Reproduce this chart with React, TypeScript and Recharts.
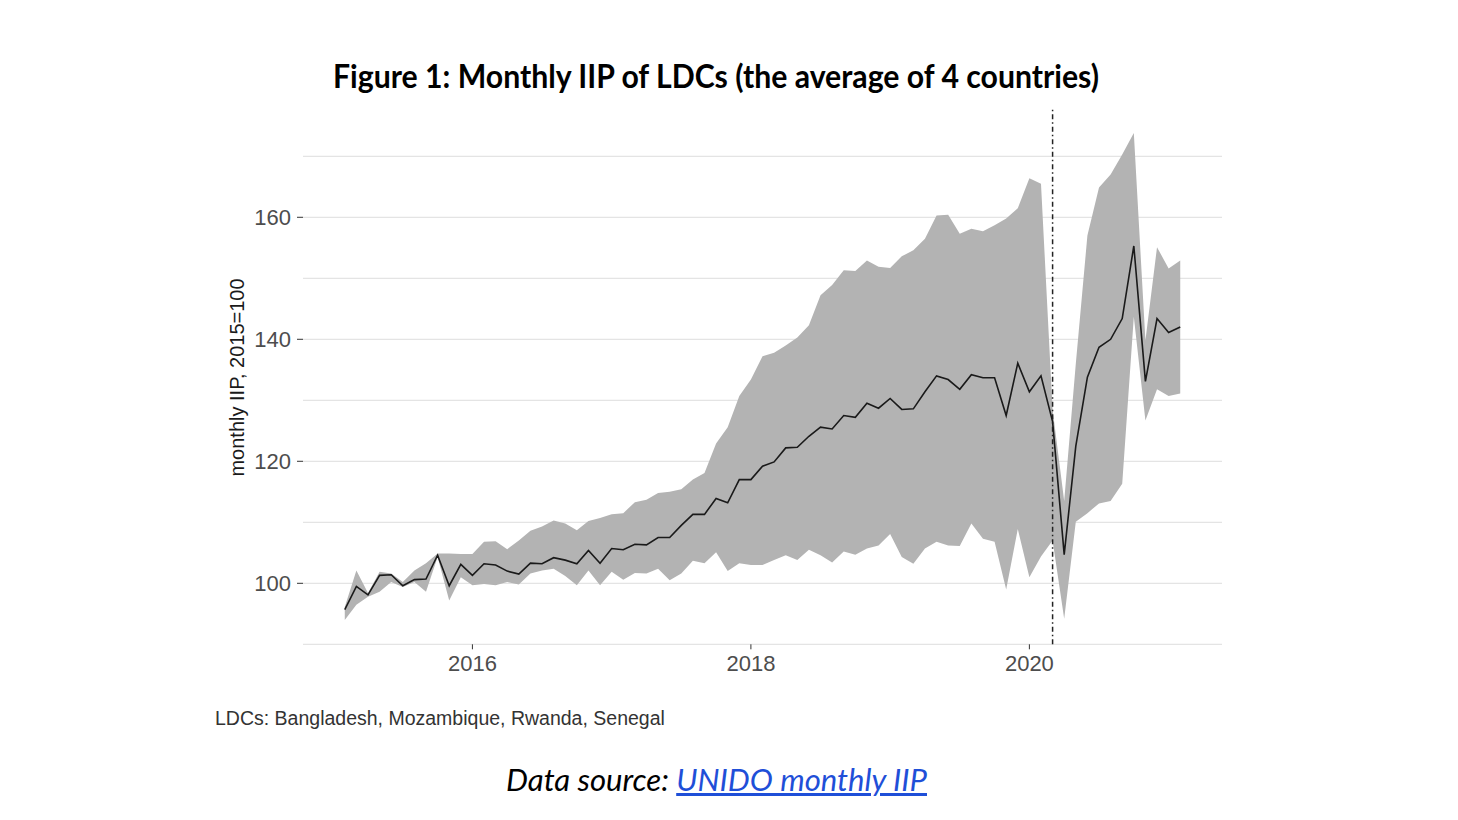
import { ComposedChart, Area, Line, XAxis, YAxis, CartesianGrid, ReferenceLine } from "recharts"

// monthly observations Feb 2015 .. Feb 2021, as decimal years
const months = Array.from({ length: 73 }, (_, i) => 2015 + (i + 1) / 12)

const meanIIP = [
  95.7, 99.5, 98.1, 101.3, 101.4, 99.6, 100.6, 100.7, 104.6, 99.6, 103.1,
  101.3, 103.2, 103.0, 102.0, 101.5, 103.3, 103.2, 104.2, 103.8, 103.2, 105.4, 103.3,
  105.7, 105.5, 106.4, 106.3, 107.5, 107.5, 109.5, 111.3, 111.3, 113.9, 113.2, 117.0,
  117.0, 119.2, 119.9, 122.2, 122.3, 124.1, 125.6, 125.3, 127.5, 127.2, 129.5, 128.7,
  130.3, 128.5, 128.6, 131.4, 134.0, 133.4, 131.8, 134.2, 133.7, 133.7, 127.5, 136.1,
  131.4, 134.0, 126.5, 104.7, 122.5, 133.8, 138.7, 140.0, 143.4, 155.3, 133.1, 143.4,
  141.1, 142.0,
]

const upperIIP = [
  96.1, 102.1, 98.4, 101.9, 101.6, 100.2, 102.1, 103.3, 104.9, 104.9, 104.8,
  104.8, 106.8, 106.9, 105.6, 107.0, 108.6, 109.3, 110.3, 109.8, 108.7, 110.2, 110.7,
  111.3, 111.5, 113.3, 113.7, 114.8, 115.0, 115.4, 117.0, 118.1, 122.9, 125.6, 130.7,
  133.4, 137.2, 137.8, 139.0, 140.3, 142.3, 147.2, 148.9, 151.3, 151.2, 152.9, 151.9,
  151.7, 153.6, 154.6, 156.5, 160.3, 160.4, 157.3, 158.1, 157.7, 158.7, 159.8, 161.5,
  166.4, 165.5, 128.5, 113.5, 136.0, 157.0, 164.9, 167.0, 170.3, 173.8, 139.8, 155.1,
  151.6, 152.9,
]

const lowerIIP = [
  94.0, 96.5, 97.8, 98.6, 100.2, 99.4, 100.2, 98.6, 104.3, 97.2, 101.0,
  99.7, 99.9, 99.7, 100.2, 99.8, 101.6, 102.1, 102.4, 101.2, 99.7, 102.1, 99.7,
  101.9, 100.6, 101.7, 101.6, 102.4, 100.5, 101.6, 103.7, 103.3, 105.1, 102.0, 103.3,
  103.0, 103.0, 103.8, 104.6, 103.8, 105.5, 104.6, 103.4, 105.2, 104.7, 105.7, 106.2,
  108.1, 104.3, 103.2, 105.7, 106.8, 106.2, 106.1, 109.8, 107.3, 106.8, 99.0, 108.9,
  101.0, 104.4, 107.0, 94.2, 110.1, 111.5, 113.1, 113.5, 116.3, 143.7, 126.7, 131.8,
  130.7, 131.1,
]

const xTicks = [2016, 2018, 2020]
const yTicks = [100, 120, 140, 160]
const gridValues = [90, 100, 110, 120, 130, 140, 150, 160, 170]
const covidStart = 2020 + 2 / 12 // March 2020

const data = months.map((t, i) => ({
  t,
  mean: meanIIP[i],
  band: [lowerIIP[i], upperIIP[i]],
}))

const axisFont = "'Liberation Sans', Arial, sans-serif"

export default function App() {
  return (
    <div style={{ position: "absolute", left: 0, top: 0, width: 1458, height: 820, background: "#fff" }}>
      <ComposedChart
        width={1458}
        height={820}
        data={data}
        margin={{ top: 108.7, right: 236, bottom: 135.7, left: 243 }}
      >
        <CartesianGrid
          horizontal
          vertical={false}
          horizontalValues={gridValues}
          stroke="#e4e4e4"
          strokeWidth={1.2}
        />
        <XAxis
          type="number"
          dataKey="t"
          domain={[2014.7833, 2021.3833]}
          ticks={xTicks}
          height={40}
          axisLine={false}
          tickSize={5}
          tickMargin={6}
          tickLine={{ stroke: "#333" }}
          tick={{ fill: "#4d4d4d", fontSize: 22, fontFamily: axisFont }}
        />
        <YAxis
          type="number"
          domain={[90, 177.8]}
          ticks={yTicks}
          width={60}
          axisLine={false}
          tickSize={6}
          tickMargin={6}
          tickLine={{ stroke: "#333" }}
          tick={{ fill: "#4d4d4d", fontSize: 22, fontFamily: axisFont }}
        />
        <Area
          type="linear"
          dataKey="band"
          fill="#b3b3b3"
          fillOpacity={1}
          stroke="none"
          isAnimationActive={false}
        />
        <Line
          type="linear"
          dataKey="mean"
          stroke="#1a1a1a"
          strokeWidth={1.6}
          dot={false}
          isAnimationActive={false}
        />
        <ReferenceLine x={covidStart} stroke="#222" strokeWidth={1.5} strokeDasharray="5 3 1.5 3" />
      </ComposedChart>

      <svg
        width={1458}
        height={820}
        style={{ position: "absolute", left: 0, top: 0, pointerEvents: "none" }}
      >
        <text
          x={333}
          y={88}
          fontFamily="Lato, 'Open Sans', sans-serif"
          fontWeight={700}
          fontSize={32}
          fill="#000"
          textLength={766}
          lengthAdjust="spacingAndGlyphs"
        >
          Figure 1: Monthly IIP of LDCs (the average of 4 countries)
        </text>
        <text
          x={237}
          y={377.5}
          transform="rotate(-90 237 377.5)"
          textAnchor="middle"
          dominantBaseline="central"
          fontFamily={axisFont}
          fontSize={20}
          fill="#1a1a1a"
        >
          monthly IIP, 2015=100
        </text>
        <text x={215} y={725} fontFamily={axisFont} fontSize={19.5} fill="#333">
          LDCs: Bangladesh, Mozambique, Rwanda, Senegal
        </text>
        <text
          x={506}
          y={791}
          fontFamily="Lato, 'Open Sans', sans-serif"
          fontStyle="italic"
          fontSize={30}
          fill="#000"
          textLength={421}
          lengthAdjust="spacingAndGlyphs"
        >
          Data source:{" "}
          <tspan fill="#1f4fd8" style={{ textDecoration: "underline" }}>
            UNIDO monthly IIP
          </tspan>
        </text>
      </svg>
    </div>
  )
}
